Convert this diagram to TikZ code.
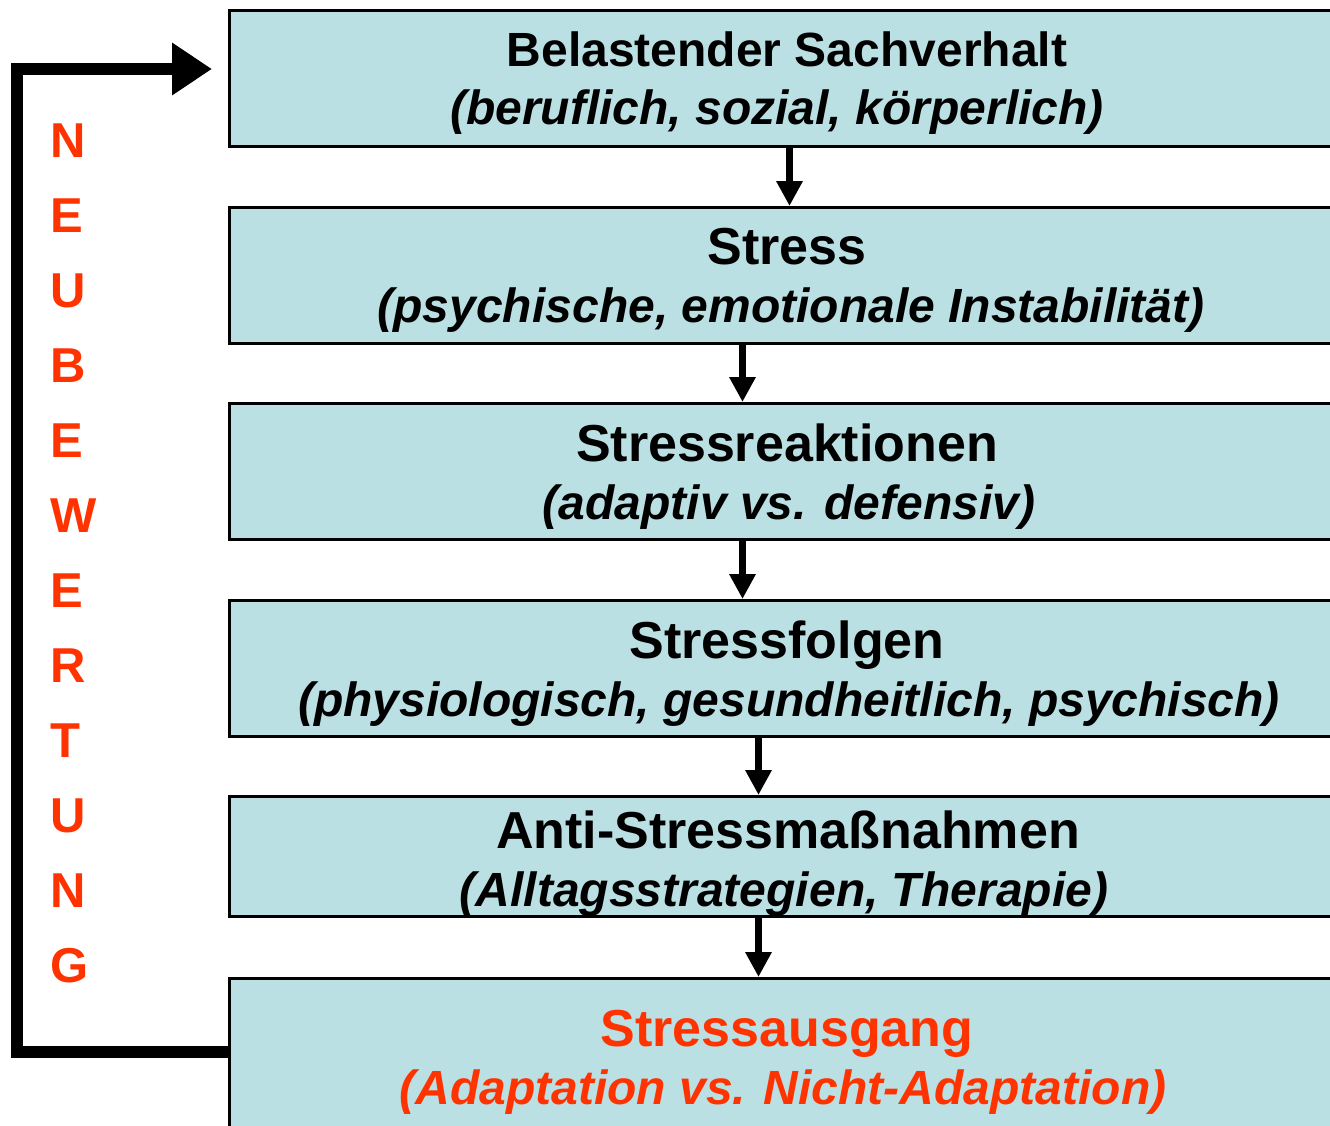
\documentclass[tikz,border=0pt]{standalone}
\usepackage{fontspec}
\setmainfont{Liberation Sans}
\usetikzlibrary{arrows.meta}
\definecolor{boxfill}{RGB}{187,224,227}
\definecolor{accent}{RGB}{255,51,0}
\begin{document}
\begin{tikzpicture}[x=1pt,y=-1pt,
  stepbox/.style={draw=black,line width=3pt,fill=boxfill,minimum width=1118pt,minimum height=136pt,inner sep=0pt,anchor=north west},
  headtxt/.style={font=\fontsize{52}{60}\selectfont\bfseries,anchor=base,inner sep=0pt},
  subtxt/.style={font=\fontsize{48}{56}\selectfont\bfseries\itshape,anchor=base,inner sep=0pt},
  downarrow/.style={line width=7pt,-{Triangle[length=25pt,width=25pt]}},
  looparrow/.style={line width=12pt,-{Triangle[length=40pt,width=50pt]}},
  letter/.style={font=\fontsize{49}{56}\selectfont\bfseries,text=accent,anchor=base west,inner sep=0pt}]
\useasboundingbox (0,0) rectangle (1330,1125);
\clip (0,0) rectangle (1330,1125);
\node[stepbox] (b1) at (228,9) {};
\node[stepbox] (b2) at (228,206) {};
\node[stepbox] (b3) at (228,402) {};
\node[stepbox] (b4) at (228,599) {};
\node[stepbox,minimum height=120pt] (b5) at (228,795) {};
\node[stepbox,minimum height=170pt] (b6) at (228,977) {};
\node[headtxt,font=\fontsize{48}{56}\selectfont\bfseries] (t1a) at (787,66) {Belastender Sachverhalt};
\node[subtxt] (t1b) at (777,124) {(beruflich, sozial, körperlich)};
\node[headtxt] (t2a) at (787,264) {Stress};
\node[subtxt] (t2b) at (791,322) {(psychische, emotionale Instabilität)};
\node[headtxt] (t3a) at (787,461) {Stressreaktionen};
\node[subtxt] (t3b) at (789,519) {(adaptiv vs. defensiv)};
\node[headtxt] (t4a) at (787,658) {Stressfolgen};
\node[subtxt] (t4b) at (789,716) {(physiologisch, gesundheitlich, psychisch)};
\node[headtxt] (t5a) at (788,848) {Anti-Stressmaßnahmen};
\node[subtxt] (t5b) at (784,906) {(Alltagsstrategien, Therapie)};
\node[headtxt,text=accent] (t6a) at (787,1046) {Stressausgang};
\node[subtxt,text=accent] (t6b) at (783,1104) {(Adaptation vs. Nicht-Adaptation)};
\draw[downarrow] ([xshift=1pt]b1.south) -- ([xshift=1pt]b2.north);
\draw[downarrow] ([xshift=-46pt]b2.south) -- ([xshift=-46pt]b3.north);
\draw[downarrow] ([xshift=-46pt]b3.south) -- ([xshift=-46pt]b4.north);
\draw[downarrow] ([xshift=-30pt]b4.south) -- ([xshift=-30pt]b5.north);
\draw[downarrow] ([xshift=-30pt]b5.south) -- ([xshift=-30pt]b6.north);
\coordinate (c1) at (17,1052);
\coordinate (c2) at (17,69);
\coordinate (tip) at (212,69);
\draw[looparrow] (b6.west |- c1) -- (c1) -- (c2) -- (tip);
\foreach \ch [count=\i] in {N,E,U,B,E,W,E,R,T,U,N,G}
  \node[letter] (l\i) at (50,{157+75*(\i-1)}) {\ch};
\end{tikzpicture}
\end{document}
